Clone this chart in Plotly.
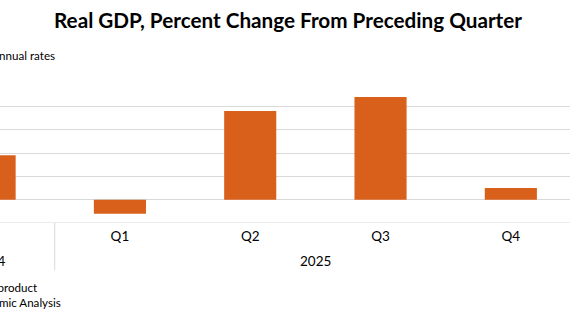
import plotly.graph_objects as go

years = ["2024", "2025", "2025", "2025", "2025"]
quarters = ["Q4\u200b", "Q1", "Q2", "Q3", "Q4"]
values = [1.9, -0.6, 3.8, 4.4, 0.5]

title = "Real GDP, Percent Change From Preceding Quarter"
subtitle = "Seasonally adjusted annual rates"
note1 = "Real gross domestic product"
note2 = "U.S. Bureau of Economic Analysis"

FONT = "Lato"
W, H = 570, 324
GRID = "#D9D9D9"
BAR = "#D9601B"
T, B = 83, 101
PH = H - T - B
XR = [0.0798, 4.454]


def py(px):
    return (H - B - px) / PH


def px_of(i):
    # category index -> paper fraction along the x axis range
    return (i - XR[0]) / (XR[1] - XR[0])


fig = go.Figure(go.Bar(
    x=list(range(len(quarters))), y=values,
    marker=dict(color=BAR, line=dict(width=0)),
    width=0.4,
))

fig.update_layout(
    width=W, height=H,
    margin=dict(l=0, r=0, t=T, b=B),
    paper_bgcolor="white", plot_bgcolor="white",
    showlegend=False,
    font=dict(family=FONT, size=13, color="#000000"),
    title=dict(text="<b>" + title + "</b>", x=288 / W, xanchor="center",
               xref="paper", y=1 - 21 / H, yanchor="middle", yref="container",
               font=dict(family=FONT, size=20.7, color="#000000")),
)
fig.update_xaxes(
    range=XR,
    tickmode="array", tickvals=list(range(len(quarters))), ticktext=quarters,
    showgrid=False, showline=False, ticks="", zeroline=False,
    tickfont=dict(family=FONT, size=13.5, color="#000000"),
    ticklabelstandoff=3,
)
fig.update_yaxes(
    range=[-1, 5], dtick=1, showgrid=True, gridcolor=GRID, gridwidth=1,
    zeroline=True, zerolinecolor=GRID, zerolinewidth=1,
    showticklabels=False, showline=False,
)
fig.add_shape(type="line", xref="paper", yref="y", x0=0, x1=1, y0=-1, y1=-1,
              line=dict(color=GRID, width=1))

# year group labels and dividers, placed on the category scale
groups = []
for i, yv in enumerate(years):
    if groups and groups[-1][0] == yv:
        groups[-1][2] = i
    else:
        groups.append([yv, i, i])
for gi, (yv, i0, i1) in enumerate(groups):
    fig.add_annotation(text=yv, xref="paper", yref="paper", x=px_of((i0 + i1) / 2),
                       y=py(261), xanchor="center", yanchor="middle",
                       showarrow=False, font=dict(family=FONT, size=13.5, color="#000000"))
    if gi > 0:
        fig.add_shape(type="line", xref="x", yref="paper", x0=i0 - 0.5, x1=i0 - 0.5,
                      y0=0, y1=py(270), line=dict(color=GRID, width=1))

fig.add_annotation(text=subtitle, xref="paper", yref="paper",
                   x=57 / W, y=py(55), xanchor="right", yanchor="middle",
                   showarrow=False, font=dict(family=FONT, size=11.6, color="#000000"))
fig.add_annotation(text=note1, xref="paper", yref="paper",
                   x=40 / W, y=py(287), xanchor="right", yanchor="middle",
                   showarrow=False, font=dict(family=FONT, size=11.6, color="#000000"))
fig.add_annotation(text=note2, xref="paper", yref="paper",
                   x=63 / W, y=py(302), xanchor="right", yanchor="middle",
                   showarrow=False, font=dict(family=FONT, size=11.6, color="#000000"))

fig.write_html("out.html")
